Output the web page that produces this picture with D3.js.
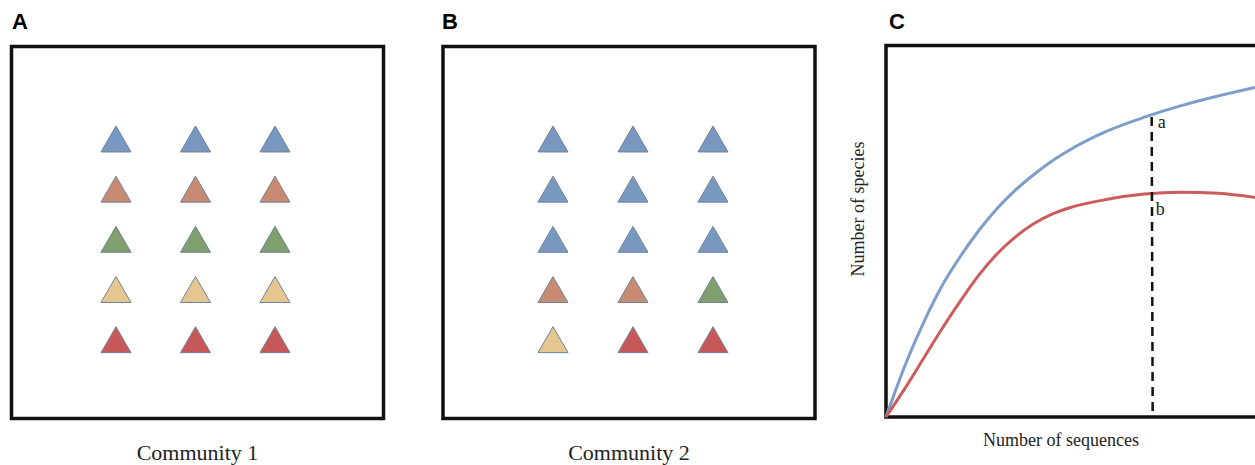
<!DOCTYPE html>
<html>
<head>
<meta charset="utf-8">
<script src="https://cdn.jsdelivr.net/npm/d3@7"></script>
<style>
  body { margin: 0; background: #fff; }
  svg { display: block; }
</style>
</head>
<body>
<svg width="1255" height="465"></svg>
<script>
const svg = d3.select("svg"),
      width = +svg.attr("width"),
      height = +svg.attr("height");

// species palette (index = species)
const speciesColors = ["#7898c2", "#c98a72", "#7f9f6c", "#e5c690", "#c75858"];

// 5 rows x 3 columns, species index of each individual
const community1 = [0, 0, 0, 1, 1, 1, 2, 2, 2, 3, 3, 3, 4, 4, 4];
const community2 = [0, 0, 0, 0, 0, 0, 0, 0, 0, 1, 1, 2, 3, 4, 4];
const communityNames = ["Community 1", "Community 2"];
const panelLetters = ["A", "B", "C"];

// rarefaction curves (x = sequences, y = species, both relative 0-100)
const seqX   = [0, 5, 10, 15, 20, 25, 30, 35, 40, 45, 50, 60, 70, 80, 90, 100];
const curveA = [0, 13.5, 25, 35, 43, 50, 56, 61, 65.2, 68.9, 72.0, 77.0, 80.7, 83.8, 86.4, 88.7];
const curveB = [0, 7.5, 15.5, 23.5, 31, 38, 43.8, 48.4, 52.0, 54.6, 56.4, 58.6, 60.0, 60.5, 60.2, 59.1];
const cutoff = 72;

const serif = "'Liberation Serif', 'Times New Roman', serif";
const sans = "'Liberation Sans', Arial, sans-serif";

// ---------- panels A and B ----------
const panels = [
    { x: 11.5, letterX: 12, data: community1, cols: [116, 275], name: communityNames[0] },
    { x: 443, letterX: 442, data: community2, cols: [553, 713], name: communityNames[1] }
];

const rowScale = d3.scalePoint().domain(d3.range(5)).range([143.3, 344]);
const tri = d3.symbol().type(d3.symbolTriangle).size(390);

panels.forEach((p, i) => {
    const g = svg.append("g");
    g.append("text")
        .attr("x", p.letterX)
        .attr("y", 29)
        .attr("font-family", sans)
        .attr("font-weight", "bold")
        .attr("font-size", 22)
        .text(panelLetters[i]);

    g.append("rect")
        .attr("x", p.x).attr("y", 46.5)
        .attr("width", 372).attr("height", 372)
        .attr("fill", "none")
        .attr("stroke", "#111")
        .attr("stroke-width", 3.5);

    const colScale = d3.scalePoint().domain(d3.range(3)).range(p.cols);

    g.selectAll("path.tri")
        .data(p.data)
        .enter().append("path")
        .attr("class", "tri")
        .attr("d", tri)
        .attr("transform", (d, k) => `translate(${colScale(k % 3)},${rowScale(Math.floor(k / 3))})`)
        .attr("fill", d => speciesColors[d])
        .attr("stroke", "#6f829a")
        .attr("stroke-width", 1);

    g.append("text")
        .attr("x", p.x + 186)
        .attr("y", 460)
        .attr("text-anchor", "middle")
        .attr("font-family", serif)
        .attr("font-size", 22)
        .attr("fill", "#222")
        .text(p.name);
});

// ---------- panel C ----------
const x = d3.scaleLinear().domain([0, 100]).range([886, 1255]);
const y = d3.scaleLinear().domain([0, 100]).range([417, 45.5]);

svg.append("text")
    .attr("x", 889)
    .attr("y", 29)
    .attr("font-family", sans)
    .attr("font-weight", "bold")
    .attr("font-size", 22)
    .text(panelLetters[2]);

svg.append("rect")
    .attr("x", 886).attr("y", 45.5)
    .attr("width", 400).attr("height", 371.5)
    .attr("fill", "none")
    .attr("stroke", "#111")
    .attr("stroke-width", 3.5);

const line = d3.line()
    .x(d => x(d[0]))
    .y(d => y(d[1]))
    .curve(d3.curveMonotoneX);

const lineData = [
    { values: curveA, color: "#7c9ec9" },
    { values: curveB, color: "#cc5c5c" }
];

svg.selectAll("path.curve")
    .data(lineData)
    .enter().append("path")
    .attr("class", "curve")
    .attr("d", d => line(seqX.map((s, k) => [s, d.values[k]])))
    .attr("fill", "none")
    .attr("stroke", d => d.color)
    .attr("stroke-width", 3);

// value of each curve at the cutoff depth
const at = vals => {
    const k = d3.bisectLeft(seqX, cutoff);
    const t = (cutoff - seqX[k - 1]) / (seqX[k] - seqX[k - 1]);
    return vals[k - 1] + t * (vals[k] - vals[k - 1]);
};
const aVal = at(curveA), bVal = at(curveB);

svg.append("line")
    .attr("x1", x(cutoff)).attr("x2", x(cutoff) + 1)
    .attr("y1", y(aVal) + 2).attr("y2", y(0))
    .attr("stroke", "#111")
    .attr("stroke-width", 2.5)
    .attr("stroke-dasharray", "9,6");

svg.append("text")
    .attr("x", x(cutoff) + 6).attr("y", y(aVal) + 13)
    .attr("font-family", serif).attr("font-size", 18).attr("fill", "#222")
    .text("a");

svg.append("text")
    .attr("x", x(cutoff) + 4).attr("y", y(bVal) + 21)
    .attr("font-family", serif).attr("font-size", 18).attr("fill", "#222")
    .text("b");

svg.append("text")
    .attr("x", 1061).attr("y", 446)
    .attr("text-anchor", "middle")
    .attr("font-family", serif).attr("font-size", 18).attr("fill", "#222")
    .text("Number of sequences");

svg.append("text")
    .attr("transform", "translate(864,209) rotate(-90)")
    .attr("text-anchor", "middle")
    .attr("font-family", serif).attr("font-size", 18).attr("fill", "#222")
    .text("Number of species");
</script>
</body>
</html>
